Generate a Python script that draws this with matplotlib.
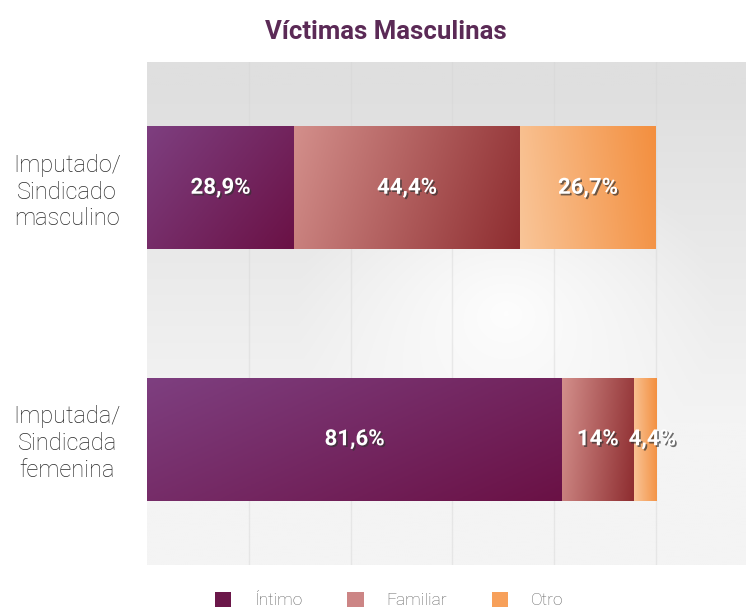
import numpy as np
import matplotlib
matplotlib.use("Agg")
import matplotlib.pyplot as plt
from matplotlib.patches import Patch
from matplotlib.colors import to_rgb
import matplotlib.patheffects as pe

plt.rcParams['font.family'] = ['Roboto', 'DejaVu Sans']

# ---- data ----
categories = ["Imputado/\nSindicado\nmasculino", "Imputada/\nSindicada\nfemenina"]
series_names = ["Íntimo", "Familiar", "Otro"]
intimo = [28.9, 81.6]
familiar = [44.4, 14.0]
otro = [26.7, 4.4]
labels_intimo = ["28,9%", "81,6%"]
labels_familiar = ["44,4%", "14%"]
labels_otro = ["26,7%", "4,4%"]
title = "Víctimas Masculinas"

legend_colors = ["#6b1749", "#cc8585", "#f7a05a"]
grad_colors = [("#7e3f80", "#6a1145"), ("#d38f8b", "#8e2d30"), ("#f9c598", "#f38f3f")]

fig = plt.figure(figsize=(7.46, 6.10), dpi=100)
ax = fig.add_axes([147/746, 1-565/610, 1-147/746, 503/610])

xmax = 117.7
ax.set_xlim(0, xmax)
ax.set_ylim(1.5, -0.5)

# background gradient
H, W = 200, 300
yy, xx = np.mgrid[0:1:H*1j, 0:1:W*1j]
top = np.array(to_rgb("#dfdfdf")); bot = np.array(to_rgb("#f4f4f4"))
t = np.clip((yy-0.05)*1.5, 0, 1)[..., None]
bg = top*(1-t) + bot*t
r = np.sqrt(((xx-0.6)/0.35)**2 + ((yy-0.5)/0.35)**2)
glow = np.clip(1-r, 0, 1)[..., None]*0.9
bg = bg*(1-glow) + np.ones(3)*glow
ax.imshow(bg, extent=(0, xmax, 1.5, -0.5), aspect='auto', zorder=0)

for xv in [20, 40, 60, 80, 100]:
    ax.axvline(xv, color="#d6d6d6", lw=1, alpha=0.45, zorder=1)

y = np.arange(len(categories))
series = [intimo, familiar, otro]
labels = [labels_intimo, labels_familiar, labels_otro]
left = np.zeros(len(categories))
for si, vals in enumerate(series):
    bars = ax.barh(y, vals, left=left, height=0.49, color=legend_colors[si],
                   edgecolor='none', zorder=2)
    c0 = np.array(to_rgb(grad_colors[si][0])); c1 = np.array(to_rgb(grad_colors[si][1]))
    for b in bars:
        gy, gx = np.mgrid[0:1:50j, 0:1:100j]
        if si == 0:
            tt = 0.6*gx + 0.4*gy
        elif si == 1:
            tt = 0.85*gx + 0.15*gy
        else:
            tt = 0.9*gx + 0.1*(1-gy)
        tt = np.clip(tt, 0, 1)[..., None]
        img = c0*(1-tt) + c1*tt
        x0, y0 = b.get_x(), b.get_y()
        im = ax.imshow(img, extent=(x0, x0+b.get_width(), y0+b.get_height(), y0),
                       aspect='auto', zorder=3)
        im.set_clip_path(b)
    for i, b in enumerate(bars):
        cx = b.get_x() + b.get_width()/2
        ax.text(cx + (1.5 if b.get_width() < 6 else 0), b.get_y()+b.get_height()/2,
                labels[si][i], ha='center', va='center', color='white',
                fontsize=16, fontweight='bold', zorder=5,
                path_effects=[pe.withSimplePatchShadow(offset=(1.2, -1.2), shadow_rgbFace='#333333', alpha=0.7)])
    left = left + np.array(vals)

ax.set_xticks([])
ax.set_yticks(y)
ax.set_yticklabels(categories, fontsize=17, fontweight='light', color='#2a2a2a',
                   multialignment='center', linespacing=1.2)
ax.tick_params(axis='y', length=0, pad=10)
for lbl in ax.get_yticklabels():
    lbl.set_horizontalalignment('center')
    lbl.set_x(-0.11)
for s in ax.spines.values():
    s.set_visible(False)

fig.text(386/746, 1-32/610, title, ha='center', va='center', fontsize=18.5,
         fontweight='bold', color='#5b2a56')

handles = [Patch(facecolor=c, edgecolor='none') for c in legend_colors]
fig.legend(handles, series_names, loc='center', bbox_to_anchor=(389/746, 1-600/610),
           ncol=3, frameon=False, fontsize=12.5, handlelength=0.95, handleheight=0.95,
           handletextpad=1.3, columnspacing=2.6, labelcolor='#5e5e5e')
for t_ in fig.legends[0].get_texts():
    t_.set_fontweight('light')

fig.savefig("out.png", dpi=100)
